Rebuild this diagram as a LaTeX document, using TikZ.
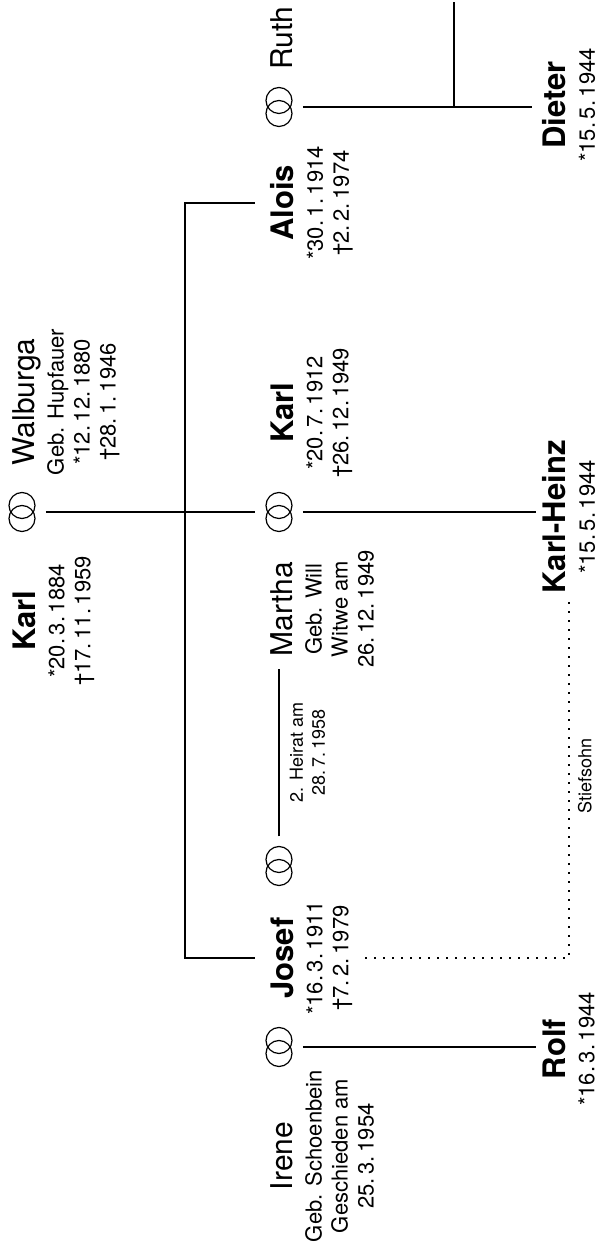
\documentclass[tikz,border=0pt]{standalone}
\usepackage{fontspec}
\setmainfont{TeX Gyre Heros}
\newcommand{\blood}[1]{{\fontsize{15.5}{15.5}\selectfont\bfseries #1}}
\newcommand{\inlaw}[1]{{\fontsize{15}{15}\selectfont #1}}
\tikzset{
    person/.style={align=center, anchor=north, inner sep=0pt, font=\fontsize{11}{13}\selectfont},
    wed/.style={inner sep=0pt, minimum width=19.5pt, minimum height=14pt, outer sep=5pt},
    note/.style={align=center, inner sep=0pt, font=\fontsize{9}{11}\selectfont},
    stepson/.style={dash pattern=on 1pt off 3.5pt, line width=.9pt},
}
\begin{document}
\begin{tikzpicture}[x=.5pt, y=.5pt, rotate=90, transform shape, line width=.8pt]
\useasboundingbox (0,0) rectangle (1249,602);
% marriages
\foreach \n/\x/\y in {w1/737/580, w4/202/323, w2/383/323, w3/737/323, w5/1142/323}
{
    \draw[line width=.6pt] (\x-6.5,\y) circle[radius=13] (\x+6.5,\y) circle[radius=13];
    \node[wed] (\n) at (\x,\y) {};
}
\node[person] (karl) at (628,590) {\blood{Karl}\\[1.5pt] *20.\,3.\,1884\\ \textdagger17.\,11.\,1959};
\node[person] (walburga) at (847,590) {\inlaw{Walburga}\\[1.5pt] Geb. Hupfauer\\ *12.\,12.\,1880\\ \textdagger28.\,1.\,1946};

\node[person] (irene) at (93,332) {\inlaw{Irene}\\[1.5pt] Geb. Schoenbein\\ Geschieden am\\ 25.\,3.\,1954};
\node[person] (josef) at (291,332) {\blood{Josef}\\[1.5pt] *16.\,3.\,1911\\ \textdagger7.\,2.\,1979};
\node[person] (martha) at (640,332) {\inlaw{Martha}\\[1.5pt] Geb. Will\\ Witwe am\\ 26.\,12.\,1949};
\node[person] (karljr) at (836,332) {\blood{Karl}\\[1.5pt] *20.\,7.\,1912\\ \textdagger26.\,12.\,1949};
\node[person] (alois) at (1046,332) {\blood{Alois}\\[1.5pt] *30.\,1.\,1914\\ \textdagger2.\,2.\,1974};
\node[person] (ruth) at (1211,332) {\inlaw{Ruth}};

\node[person] (rolf) at (200,60) {\blood{Rolf}\\[1.5pt] *16.\,3.\,1944};
\node[person] (kh) at (732,60) {\blood{Karl-Heinz}\\[1.5pt] *15.\,5.\,1944};
\node[person] (dieter) at (1144,60) {\blood{Dieter}\\[1.5pt] *15.\,5.\,1944};

% children of Karl and Walburga
\coordinate (bar) at (737,417);
\draw (w1) -- (w3);
\draw (josef.north |- w3.north) |- (bar) -| (alois.north |- w3.north);
\draw (w2.east) -- node[note, below=5pt] (heirat) {2. Heirat am\\28.\,7.\,1958} (martha.west |- w2.east);

% grandchildren
\draw[shorten >=3pt] (w4) -- (w4 |- rolf.north);
\draw[shorten >=3pt] (w3) -- (w3 |- kh.north);
\draw[shorten >=5pt] (w5) -- (w5 |- dieter.north);
\coordinate (edge) at (1247,148);
\draw (w5 |- edge) -- (edge);
\draw[stepson, shorten <=6pt, shorten >=3pt] (josef.south) |- node[note, pos=.75, below=4pt] (stief) {Stiefsohn} (kh.west);
\end{tikzpicture}
\end{document}
